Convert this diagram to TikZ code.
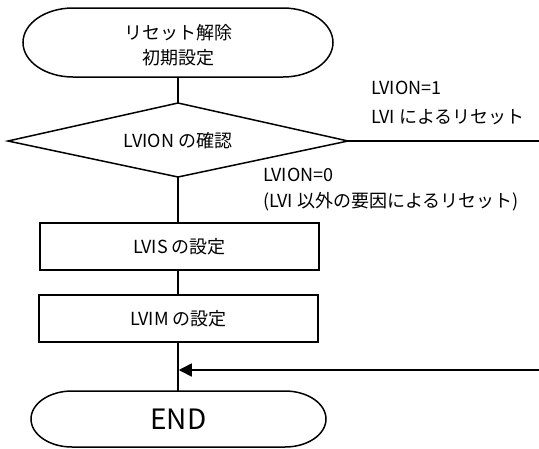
\documentclass[tikz,border=0pt]{standalone}
\usepackage{fontspec}
\setmainfont{Noto Sans CJK JP}
\usetikzlibrary{arrows.meta}
\begin{document}
\begin{tikzpicture}[x=1pt,y=1pt,
  ln/.style={line width=1.5pt, black},
  txt/.style={font=\fontsize{18}{25}\selectfont, inner sep=0pt},
  lbl/.style={txt, anchor=west},
  boxnode/.style={draw, line width=1.5pt, minimum width=279pt, minimum height=47pt, inner sep=0pt, font=\fontsize{18}{20}\selectfont}]
\useasboundingbox (0,0) rectangle (539,-448);
% start terminator
\draw[ln] (73,-8) -- (283,-8) arc[start angle=90,end angle=-90,x radius=50,y radius=34.5]
  -- (73,-77) arc[start angle=270,end angle=90,x radius=50,y radius=34.5] -- cycle;
\node[txt, align=center] (start) at (178,-45) {リセット解除\\初期設定};
\coordinate (startB) at (178,-77);
% decision
\coordinate (dT) at (178,-103);
\coordinate (dL) at (8,-141);
\coordinate (dR) at (348,-141);
\coordinate (dB) at (178,-177);
\draw[ln] (dL) -- (dT) -- (dR) -- (dB) -- cycle;
\node[txt] (dec) at (178,-141) {LVION の確認};
% boxes
\node[boxnode] (lvis) at (179.5,-246.5) {LVIS の設定};
\node[boxnode] (lvim) at (178.5,-318.5) {LVIM の設定};
% end terminator
\draw[ln] (72,-391) -- (285,-391) arc[start angle=90,end angle=-90,x radius=41,y radius=28]
  -- (72,-447) arc[start angle=270,end angle=90,x radius=41,y radius=28] -- cycle;
\node[font=\fontsize{28}{30}\selectfont, inner sep=0pt] (endn) at (178.5,-419) {END};
\coordinate (endT) at (178,-391);
% labels
\node[lbl] (l1) at (371,-88) {LVION=1};
\node[lbl] (l2) at (371,-117) {LVI によるリセット};
\node[lbl] (l3) at (263,-175) {LVION=0};
\node[lbl] (l4) at (263,-202) {(LVI 以外の要因によるリセット)};
% connectors
\draw[ln] (startB) -- (dT);
\draw[ln] (dB) -- (178,-223);
\draw[ln] (178,-270) -- (178,-295);
\draw[ln] (178,-342) -- (endT);
\coordinate (rR) at (539,-141);
\coordinate (rB) at (539,-370);
\coordinate (join) at (178.75,-370);
\draw[ln] (dR) -- (rR);
\draw[ln, -{Triangle[length=13pt,width=13pt]}] (rB) -- (join);
\end{tikzpicture}
\end{document}
